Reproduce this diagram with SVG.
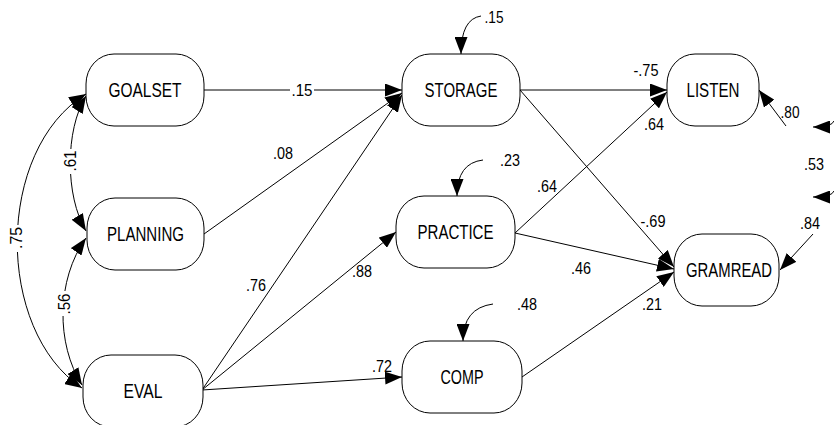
<svg xmlns="http://www.w3.org/2000/svg" width="834" height="425" viewBox="0 0 834 425">
  <style>
    .node rect { fill: #ffffff; stroke: #000000; stroke-width: 1; }
    .node text { font-family: "Liberation Sans", Arial, sans-serif; font-size: 20px; text-anchor: middle; fill: #000000; }
    .edge { fill: none; stroke: #000000; stroke-width: 1; }
    .lbl { font-family: "Liberation Sans", Arial, sans-serif; font-size: 17px; text-anchor: middle; fill: #000000; }
    .bg { fill: #ffffff; stroke: none; }
  </style>
  <defs>
    <marker id="arrow" viewBox="0 0 17 13" refX="17" refY="6.5" markerWidth="17" markerHeight="13" markerUnits="userSpaceOnUse" orient="auto-start-reverse">
      <path d="M0,0 L17,6.5 L0,13 z" fill="#000000"/>
    </marker>
  </defs>

  <rect width="834" height="425" fill="#ffffff"/>

  <!-- connectors -->
  <g id="connectors">
    <!-- covariances among the exogenous variables -->
    <path class="edge" d="M86,94 C-5,150 -5,330 82,388" marker-start="url(#arrow)" marker-end="url(#arrow)"/>
    <path class="edge" d="M86,96 C65,130 65,196 86,231" marker-start="url(#arrow)" marker-end="url(#arrow)"/>
    <path class="edge" d="M86,238 C56,280 56,344 82,385" marker-start="url(#arrow)" marker-end="url(#arrow)"/>

    <!-- paths into STORAGE -->
    <path class="edge" d="M204,90 L402,90" marker-end="url(#arrow)"/>
    <path class="edge" d="M204,234 L402,93" marker-end="url(#arrow)"/>
    <path class="edge" d="M202,390 L402,95" marker-end="url(#arrow)"/>

    <!-- paths out of EVAL -->
    <path class="edge" d="M202,390 L396,232" marker-end="url(#arrow)"/>
    <path class="edge" d="M202,390 L402,377" marker-end="url(#arrow)"/>

    <!-- paths into LISTEN -->
    <path class="edge" d="M520,90 L667,90" marker-end="url(#arrow)"/>
    <path class="edge" d="M515,233 L667,92" marker-end="url(#arrow)"/>

    <!-- paths into GRAMREAD -->
    <path class="edge" d="M520,90 L674,267" marker-end="url(#arrow)"/>
    <path class="edge" d="M515,233 L674,269" marker-end="url(#arrow)"/>
    <path class="edge" d="M522,377 L674,272" marker-end="url(#arrow)"/>

    <!-- residual arrows -->
    <path class="edge" d="M481,16 Q461,19 461,54" marker-end="url(#arrow)"/>
    <path class="edge" d="M483,160 Q457,163 457,196" marker-end="url(#arrow)"/>
    <path class="edge" d="M493,304 Q463,308 463,341" marker-end="url(#arrow)"/>
    <path class="edge" d="M786,126 L759,90" marker-end="url(#arrow)"/>
    <path class="edge" d="M813,234 L780,270" marker-end="url(#arrow)"/>
    <path class="edge" d="M834,121 Q832,127 813,127" marker-end="url(#arrow)"/>
    <path class="edge" d="M834,191 Q832,197 813,197" marker-end="url(#arrow)"/>
  </g>

  <!-- coefficient labels -->
  <g id="labels">
    <rect class="bg" x="290" y="82" width="24" height="16"/>
    <text class="lbl" x="302" y="96" textLength="21" lengthAdjust="spacingAndGlyphs">.15</text>
    <text class="lbl" x="283" y="159" textLength="20" lengthAdjust="spacingAndGlyphs">.08</text>
    <text class="lbl" x="256" y="291" textLength="20" lengthAdjust="spacingAndGlyphs">.76</text>
    <text class="lbl" x="362" y="277" textLength="20" lengthAdjust="spacingAndGlyphs">.88</text>
    <text class="lbl" x="382" y="372" textLength="20" lengthAdjust="spacingAndGlyphs">.72</text>
    <text class="lbl" x="646" y="76" textLength="25" lengthAdjust="spacingAndGlyphs">-.75</text>
    <text class="lbl" x="654" y="130" textLength="20" lengthAdjust="spacingAndGlyphs">.64</text>
    <text class="lbl" x="547" y="192" textLength="20" lengthAdjust="spacingAndGlyphs">.64</text>
    <text class="lbl" x="653" y="227" textLength="25" lengthAdjust="spacingAndGlyphs">-.69</text>
    <text class="lbl" x="581" y="274" textLength="20" lengthAdjust="spacingAndGlyphs">.46</text>
    <text class="lbl" x="652" y="310" textLength="20" lengthAdjust="spacingAndGlyphs">.21</text>
    <text class="lbl" x="790" y="118" textLength="19" lengthAdjust="spacingAndGlyphs">.80</text>
    <text class="lbl" x="810" y="229" textLength="20" lengthAdjust="spacingAndGlyphs">.84</text>
    <text class="lbl" x="814" y="170" textLength="20" lengthAdjust="spacingAndGlyphs">.53</text>
    <text class="lbl" x="494" y="23" textLength="19" lengthAdjust="spacingAndGlyphs">.15</text>
    <text class="lbl" x="510" y="166" textLength="20" lengthAdjust="spacingAndGlyphs">.23</text>
    <text class="lbl" x="527" y="310" textLength="20" lengthAdjust="spacingAndGlyphs">.48</text>

    <rect class="bg" x="63" y="149" width="15" height="25"/>
    <text class="lbl" transform="translate(76,161) rotate(-90)" x="0" y="0" textLength="21" lengthAdjust="spacingAndGlyphs">.61</text>
    <rect class="bg" x="57" y="291" width="15" height="25"/>
    <text class="lbl" transform="translate(70,304) rotate(-90)" x="0" y="0" textLength="21" lengthAdjust="spacingAndGlyphs">.56</text>
    <rect class="bg" x="9" y="225" width="15" height="27"/>
    <text class="lbl" transform="translate(22,238) rotate(-90)" x="0" y="0" textLength="22" lengthAdjust="spacingAndGlyphs">.75</text>
  </g>

  <!-- nodes -->
  <g id="goalset" class="node">
    <rect x="86" y="54" width="118" height="72" rx="28" ry="30"/>
    <text x="145" y="97" textLength="73" lengthAdjust="spacingAndGlyphs">GOALSET</text>
  </g>
  <g id="planning" class="node">
    <rect x="87" y="198" width="117" height="72" rx="28" ry="30"/>
    <text x="145.5" y="241" textLength="77" lengthAdjust="spacingAndGlyphs">PLANNING</text>
  </g>
  <g id="eval" class="node">
    <rect x="83" y="355" width="120" height="72" rx="28" ry="30"/>
    <text x="143" y="398" textLength="39" lengthAdjust="spacingAndGlyphs">EVAL</text>
  </g>
  <g id="storage" class="node">
    <rect x="402" y="54" width="118" height="72" rx="28" ry="30"/>
    <text x="461" y="97" textLength="73" lengthAdjust="spacingAndGlyphs">STORAGE</text>
  </g>
  <g id="practice" class="node">
    <rect x="396" y="196" width="119" height="72" rx="28" ry="30"/>
    <text x="455.5" y="239" textLength="76" lengthAdjust="spacingAndGlyphs">PRACTICE</text>
  </g>
  <g id="comp" class="node">
    <rect x="402" y="341" width="120" height="72" rx="28" ry="30"/>
    <text x="462" y="384" textLength="43" lengthAdjust="spacingAndGlyphs">COMP</text>
  </g>
  <g id="listen" class="node">
    <rect x="667" y="54" width="92" height="72" rx="28" ry="30"/>
    <text x="713" y="97" textLength="53" lengthAdjust="spacingAndGlyphs">LISTEN</text>
  </g>
  <g id="gramread" class="node">
    <rect x="674" y="234" width="105" height="72" rx="28" ry="30"/>
    <text x="729" y="277" textLength="86" lengthAdjust="spacingAndGlyphs">GRAMREAD</text>
  </g>
</svg>
